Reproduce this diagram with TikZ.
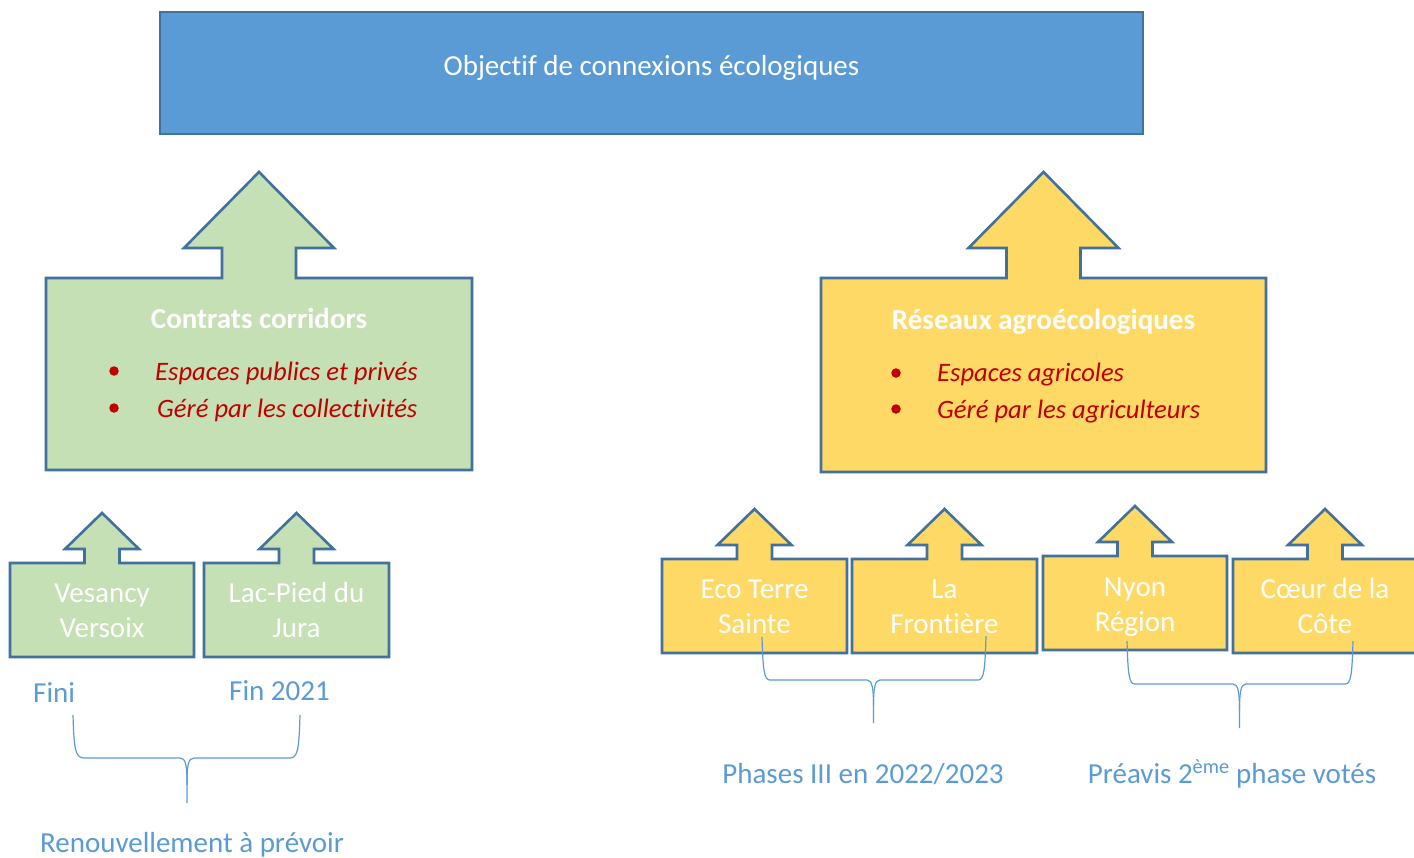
\documentclass[tikz,border=0pt]{standalone}
\usepackage{fontspec}
\setmainfont{Carlito}[RawFeature={-liga;-clig;-dlig}]
\definecolor{titlefill}{HTML}{5B9BD5}
\definecolor{edgeblue}{HTML}{41719C}
\definecolor{greenfill}{HTML}{C5E0B4}
\definecolor{goldfill}{HTML}{FFD966}
\definecolor{redtext}{HTML}{C00000}
\definecolor{labelblue}{HTML}{5B9BD5}
% #1 fill, #2 cx, #3 half width, #4 top, #5 bottom, #6 shaft half, #7 head half, #8 head base y, #9 tip y
\newcommand\upcallout[9]{%
  \draw[calloutline, fill=#1] ({#2-#3},#4) -- ({#2-#6},#4) -- ({#2-#6},#8) -- ({#2-#7},#8) -- (#2,#9)
    -- ({#2+#7},#8) -- ({#2+#6},#8) -- ({#2+#6},#4) -- ({#2+#3},#4) -- ({#2+#3},#5) -- ({#2-#3},#5) -- cycle;}
\begin{document}
\begin{tikzpicture}[x=1pt,y=-1pt,
  calloutline/.style={draw=edgeblue, line width=2.6pt, line join=miter},
  boxtext/.style={text=white, font=\fontsize{29}{35}\selectfont, anchor=base, inner sep=0pt},
  boldtext/.style={text=white, font=\fontsize{29}{35}\selectfont\bfseries, anchor=base, inner sep=0pt},
  itemtext/.style={text=redtext, font=\fontsize{26.6}{31}\selectfont\itshape, anchor=base west, inner sep=0pt},
  labeltext/.style={text=labelblue, font=\fontsize{29}{35}\selectfont, anchor=base, inner sep=0pt},
  bracket/.style={draw=labelblue, line width=1.2pt},
  dot/.style={fill=redtext, circle, minimum size=9.5pt, inner sep=0pt}]
\useasboundingbox (0,0) rectangle (1414,857);
\clip (0,0) rectangle (1414,857);
\fill[white] (0,0) rectangle (1414,857);

% title
\node[draw=edgeblue, fill=titlefill, line width=2pt, minimum width=983pt, minimum height=122pt, inner sep=0pt] (titlebox) at (651.5,73) {};
\node[boxtext] (title) at (651.5,75) {Objectif de connexions écologiques};

% big callouts
\upcallout{greenfill}{259}{213}{278}{470}{37}{75}{248}{172}
\upcallout{goldfill}{1043.5}{222.5}{278}{472}{37}{75}{248}{172}

\node[boldtext] (cc) at (259,328) {Contrats corridors};
\node[dot] (d1) at (114,371) {};
\node[dot] (d2) at (114,408) {};
\node[itemtext] (cc1) at (155,380) {Espaces publics et privés};
\node[itemtext] (cc2) at (157,417) {Géré par les collectivités};

\node[boldtext] (ra) at (1043.5,329) {Réseaux agroécologiques};
\node[dot] (d3) at (896,373) {};
\node[dot] (d4) at (896,409) {};
\node[itemtext] (ra1) at (937,381) {Espaces agricoles};
\node[itemtext] (ra2) at (937,418) {Géré par les agriculteurs};

% small green callouts
\upcallout{greenfill}{102}{92}{563}{657}{17.5}{37}{549}{513}
\upcallout{greenfill}{296.5}{92.5}{563}{657}{17.5}{37}{549}{513}
\node[boxtext] (v1) at (102,602) {Vesancy};
\node[boxtext] (v2) at (102,637) {Versoix};
\node[boxtext] (l1) at (296.5,602) {Lac-Pied du};
\node[boxtext] (l2) at (296.5,637) {Jura};

% small gold callouts
\upcallout{goldfill}{754.5}{92.5}{559}{653}{17.5}{37}{545}{509}
\upcallout{goldfill}{944.5}{92.5}{559}{653}{17.5}{37}{545}{509}
\upcallout{goldfill}{1135}{92}{556}{650}{17.5}{37}{542}{506}
\upcallout{goldfill}{1325}{92}{559}{653}{17.5}{37}{545}{509}
\node[boxtext] (e1) at (754.5,598) {Eco Terre};
\node[boxtext] (e2) at (754.5,633) {Sainte};
\node[boxtext] (f1) at (944.5,598) {La};
\node[boxtext] (f2) at (944.5,633) {Frontière};
\node[boxtext] (n1) at (1135,596) {Nyon};
\node[boxtext] (n2) at (1135,631) {Région};
\node[boxtext] (c1) at (1325,598) {Cœur de la};
\node[boxtext] (c2) at (1325,633) {Côte};

% labels
\node[labeltext, anchor=base west] (fini) at (33,702) {Fini};
\node[labeltext, anchor=base west] (fin21) at (229,700) {Fin 2021};
\node[labeltext] (renouv) at (192,852) {Renouvellement à prévoir};
\node[labeltext] (phases) at (863,783) {Phases III en 2022/2023};
\node[labeltext] (preavis) at (1232,783) {Préavis 2\textsuperscript{ème} phase votés};

% braces
\coordinate (b1l) at (73,715); \coordinate (b1r) at (300,715); \coordinate (b1m) at (187,803);
\draw[bracket] (b1l) .. controls (74,748) and (75,758) .. (84,758) -- (180,758)
  .. controls (186,758) and (187,766) .. (187,785) -- (b1m);
\draw[bracket] (b1r) .. controls (299,748) and (298,758) .. (290,758) -- (194,758)
  .. controls (188,758) and (187,766) .. (187,785);

\coordinate (b2l) at (762,637); \coordinate (b2r) at (986,636); \coordinate (b2m) at (873.5,723);
\draw[bracket] (b2l) .. controls (763,670) and (764,680) .. (770,680) -- (867,680)
  .. controls (872,680) and (873.5,688) .. (873.5,705) -- (b2m);
\draw[bracket] (b2r) .. controls (985,670) and (984,680) .. (978,680) -- (880,680)
  .. controls (875,680) and (873.5,688) .. (873.5,705);

\coordinate (b3l) at (1127,641); \coordinate (b3r) at (1353,641); \coordinate (b3m) at (1239.5,728);
\draw[bracket] (b3l) .. controls (1128,675) and (1129,684) .. (1135,684) -- (1233,684)
  .. controls (1238,684) and (1239.5,692) .. (1239.5,710) -- (b3m);
\draw[bracket] (b3r) .. controls (1352,675) and (1351,684) .. (1345,684) -- (1246,684)
  .. controls (1241,684) and (1239.5,692) .. (1239.5,710);
\end{tikzpicture}
\end{document}
